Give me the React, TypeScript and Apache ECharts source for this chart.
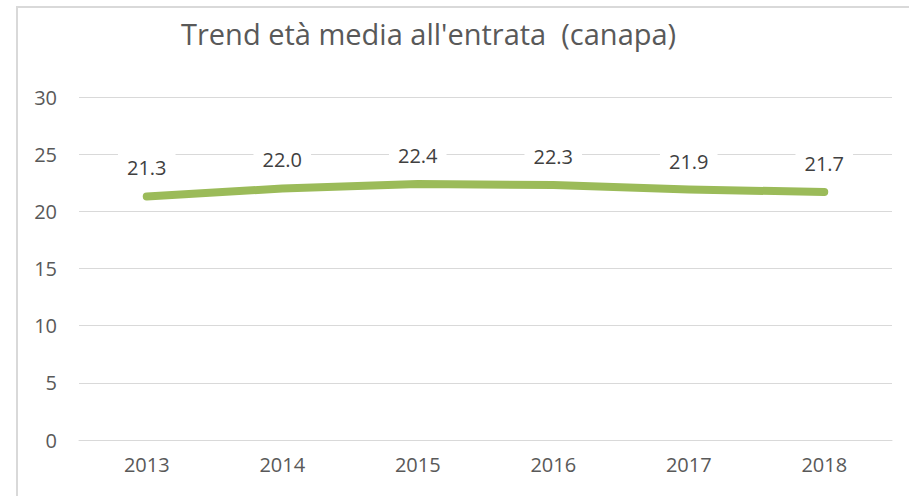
import React, { useEffect, useRef } from "react";
import * as echarts from "echarts";

const TITLE = "Trend età media all'entrata  (canapa)";
const years = ["2013", "2014", "2015", "2016", "2017", "2018"];
const meanAge = [21.3, 22.0, 22.4, 22.3, 21.9, 21.7];
const yMin = 0;
const yMax = 30;
const yStep = 5;

const FONT = "'Open Sans', sans-serif";

export default function App() {
  const ref = useRef<HTMLDivElement>(null);
  useEffect(() => {
    if (!ref.current) return;
    const chart = echarts.init(ref.current, null, { renderer: "svg" });
    chart.setOption({
      animation: false,
      backgroundColor: "#ffffff",
      title: {
        text: TITLE,
        left: 176,
        top: 14,
        textStyle: { fontFamily: FONT, fontSize: 29, fontWeight: "normal", color: "#595959" },
      },
      graphic: [
        {
          type: "rect",
          shape: { x: 17, y: 7, width: 1000, height: 1000 },
          style: { fill: "none", stroke: "#d9d9d9", lineWidth: 2 },
          silent: true,
        },
      ],
      grid: { left: 79, right: 17, top: 97, bottom: 56 },
      xAxis: {
        type: "category",
        data: years,
        boundaryGap: true,
        axisLine: { show: true, lineStyle: { color: "#d9d9d9", width: 1 } },
        axisTick: { show: false },
        axisLabel: { fontFamily: FONT, fontSize: 20, color: "#595959", margin: 14 },
      },
      yAxis: {
        type: "value",
        min: yMin,
        max: yMax,
        interval: yStep,
        axisLine: { show: false },
        axisTick: { show: false },
        splitLine: { lineStyle: { color: "#d9d9d9", width: 1 } },
        axisLabel: { fontFamily: FONT, fontSize: 20, color: "#595959", margin: 22 },
      },
      series: [
        {
          type: "line",
          data: meanAge,
          showSymbol: true,
          symbol: "circle",
          symbolSize: 1,
          itemStyle: { color: "#9BBB59" },
          lineStyle: { color: "#9BBB59", width: 8, cap: "round", join: "round" },
          label: {
            show: true,
            position: "top",
            distance: 14,
            formatter: (p: any) => Number(p.value).toFixed(1),
            fontFamily: FONT,
            fontSize: 20,
            lineHeight: 20,
            color: "#404040",
            backgroundColor: "#ffffff",
            padding: [4, 9],
          },
          z: 3,
        },
      ],
    });
    return () => chart.dispose();
  }, []);
  return (
    <div
      ref={ref}
      style={{ position: "fixed", left: 0, top: 0, width: 909, height: 496, background: "#fff" }}
    />
  );
}
